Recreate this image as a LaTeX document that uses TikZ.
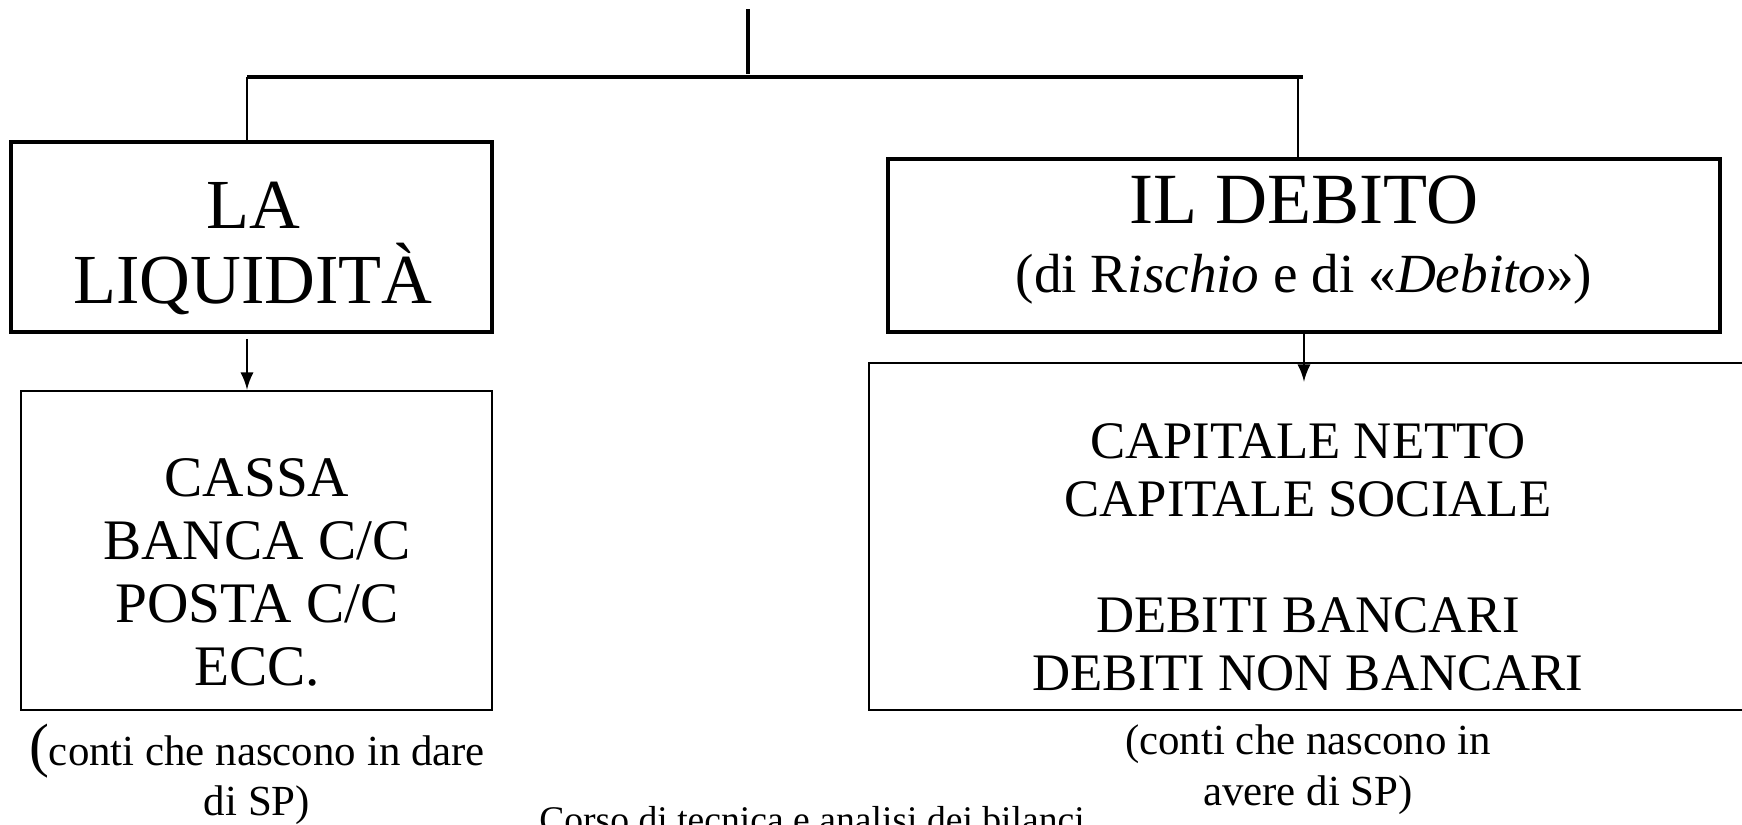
\documentclass[tikz,border=0pt]{standalone}
\usepackage{fontspec}
\setmainfont{Liberation Serif}

\begin{document}
\begin{tikzpicture}[x=0.01cm, y=-0.01cm,
  headbox/.style={draw, line width=1.1pt, inner sep=0pt},
  listbox/.style={draw, line width=0.7pt, inner sep=0pt},
  txt/.style={inner sep=0pt, anchor=north, align=center},
  arr/.style={-latex, line width=0.7pt}]

  \useasboundingbox (0,0) rectangle (1742,824);
  \clip (0,0) rectangle (1742,824);

  \draw[]
   (251.5,237) node[headbox, minimum width=4.81cm, minimum height=1.90cm](liq) {}
   (256.5,550.5) node[listbox, minimum width=4.71cm, minimum height=3.19cm](cassa) {}
   (1304,245.5) node[headbox, minimum width=8.32cm, minimum height=1.73cm](deb) {}
   (1320,536.5) node[listbox, minimum width=9.02cm, minimum height=3.47cm](cap) {};

  %Titles and lists
  \draw[]
   (253,181) node[txt, font=\fontsize{20}{21.5}\selectfont](liqtxt) {LA\\LIQUIDITÀ}
   (1304,175) node[txt, font=\fontsize{20.5}{19.5}\selectfont](debtxt)
     {IL DEBITO\\{\fontsize{15.7}{19.5}\selectfont(di R\textit{ischio} e di «\textit{Debito}»)}}
   (257,458) node[txt, font=\fontsize{16.3}{17.9}\selectfont](cassatxt)
     {CASSA\\BANCA C/C\\POSTA C/C\\ECC.}
   (1308,423) node[txt, font=\fontsize{15}{16.5}\selectfont](captxt)
     {CAPITALE NETTO\\CAPITALE SOCIALE\\[16.5pt]DEBITI BANCARI\\DEBITI NON BANCARI};

  %Notes under the boxes
  \draw[]
   (257,723) node[txt, font=\fontsize{12.2}{14.3}\selectfont](dare)
     {{\fontsize{17}{14.3}\selectfont(}conti che nascono in dare\\di SP)}
   (1308,724) node[txt, font=\fontsize{12.2}{14.5}\selectfont](avere)
     {(conti che nascono in\\avere di SP)}
   (812,806) node[txt, font=\fontsize{10.7}{12}\selectfont](corso)
     {Corso di tecnica e analisi dei bilanci};

  \coordinate (top) at (748,9);
  \coordinate (topend) at (748,74);
  \coordinate (hl) at (247,77);
  \coordinate (hr) at (1303,77);
  \coordinate (rv) at (1298,77);

  \draw[line width=0.9pt] (top) -- (topend);
  \draw[line width=1.1pt] (hl) -- (hr);
  \draw[line width=0.75pt] (hl) -- (hl |- liq.north);
  \draw[line width=0.75pt] (rv) -- (rv |- deb.north);
  \draw[arr] ([yshift=-0.5mm]liq.south -| hl) -- (cassa.north -| hl);
  \draw[arr] ([yshift=0.3mm]deb.south) -- ([yshift=-2mm]cap.north -| deb.south);
\end{tikzpicture}
\end{document}
